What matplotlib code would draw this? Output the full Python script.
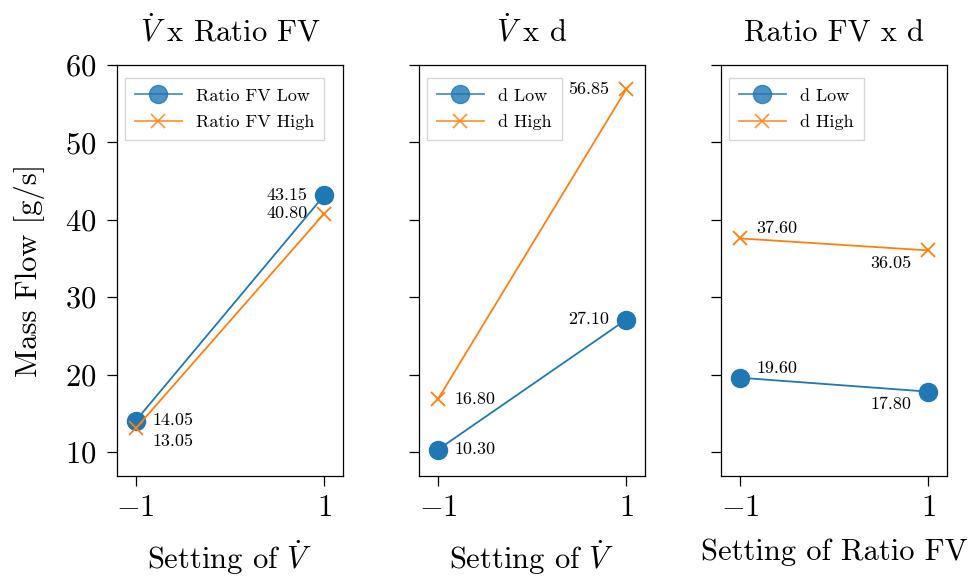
import matplotlib
matplotlib.use("Agg")
import matplotlib.pyplot as plt

# factor settings (coded levels) and mean mass flow per interaction
settings = [-1, 1]
panel_titles = [r"$\dot{V}\ $x Ratio FV", r"$\dot{V}\ $x d", "Ratio FV x d"]
x_labels = [r"Setting of $\dot{V}$", r"Setting of $\dot{V}$", "Setting of Ratio FV"]
low_names = ["Ratio FV Low", "d Low", "d Low"]
high_names = ["Ratio FV High", "d High", "d High"]
low_means = [[14.05, 43.15], [10.30, 27.10], [19.60, 17.80]]
high_means = [[13.05, 40.80], [16.80, 56.85], [37.60, 36.05]]

# label offsets (points) for each value label
low_offsets = [[(12, 0), (-12, 0)], [(12, 0), (-12, 0)], [(12, 7), (-12, -9)]]
high_offsets = [[(12, -9), (-12, 0)], [(12, 0), (-12, 0)], [(12, 7), (-12, -9)]]

plt.rcParams["font.family"] = "serif"
plt.rcParams["font.serif"] = ["cmr10"]
plt.rcParams["mathtext.fontset"] = "cm"
plt.rcParams["axes.formatter.use_mathtext"] = True
plt.rcParams["axes.unicode_minus"] = True

blue = "#1f77b4"
orange = "#ff7f0e"

fig = plt.figure(figsize=(9.73, 5.81), dpi=100)
lefts = [0.1202, 0.4306, 0.741]
axes = []
for left in lefts:
    ax = fig.add_axes([left, 0.1807, 0.2323, 0.7074],
                      sharey=axes[0] if axes else None)
    axes.append(ax)


def label_points(ax, ys, offsets):
    for x, y, off in zip(settings, ys, offsets):
        ax.annotate(f"{y:.2f}", (x, y), xytext=off, textcoords="offset points",
                    ha="left" if off[0] > 0 else "right", va="center",
                    fontsize=13)


for i, ax in enumerate(axes):
    ax.plot(settings, low_means[i], color=blue, marker="o", markersize=13,
            linewidth=1.3, label=low_names[i])
    ax.plot(settings, high_means[i], color=orange, marker="x", markersize=10,
            markeredgewidth=1.3, linewidth=1.3, label=high_names[i])
    label_points(ax, low_means[i], low_offsets[i])
    label_points(ax, high_means[i], high_offsets[i])

    ax.set_xlim(-1.2, 1.2)
    ax.set_xticks(settings)
    ax.set_title(panel_titles[i], fontsize=22, pad=17)
    ax.set_xlabel(x_labels[i], fontsize=22, labelpad=12)
    ax.tick_params(axis="both", labelsize=22, length=7, width=0.9)
    ax.tick_params(axis="y", pad=8)
    ax.tick_params(axis="x", pad=6)
    for sp in ax.spines.values():
        sp.set_linewidth(0.9)

    leg = ax.legend(loc="upper left", bbox_to_anchor=(0.035, 0.968),
                    borderaxespad=0, fontsize=13, handlelength=2.6,
                    labelspacing=0.6, borderpad=0.55,
                    fancybox=False, edgecolor="0.8")
    for h in leg.legend_handles:
        h.set_alpha(0.8)
    if i > 0:
        ax.tick_params(axis="y", labelleft=False)

axes[0].set_ylim(6.9, 60)
axes[0].set_yticks([10, 20, 30, 40, 50, 60])
axes[0].set_ylabel("Mass Flow [g/s]", fontsize=22, labelpad=14)

fig.savefig("out.png", dpi=100)
